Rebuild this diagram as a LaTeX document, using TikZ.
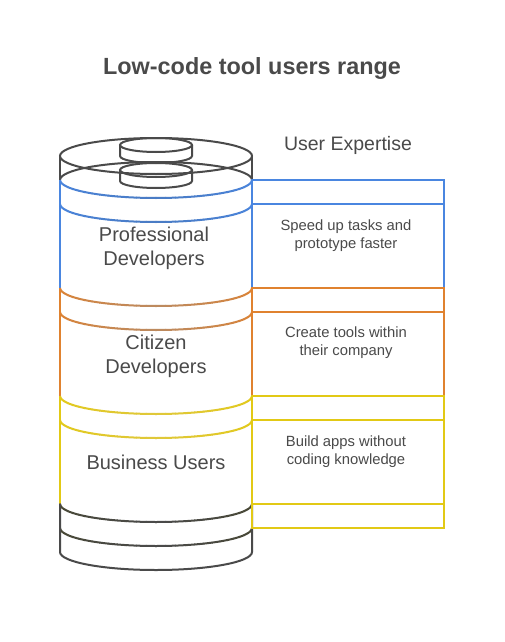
\documentclass[tikz,border=0pt]{standalone}
\usepackage{fontspec}
\setmainfont{Liberation Sans}
\definecolor{inkgrey}{HTML}{4A4A4A}
\definecolor{pblue}{HTML}{4A86E0}
\definecolor{pbluemid}{HTML}{4A7CC4}
\definecolor{porange}{HTML}{E0822F}
\definecolor{porangemid}{HTML}{BC8A60}
\definecolor{pyellow}{HTML}{E2C915}
\definecolor{pyellowmid}{HTML}{E0C83A}
\definecolor{polive}{HTML}{484832}
\tikzset{
  outline/.style={draw=inkgrey,line width=2pt,line cap=round},
  band/.style={line width=2pt,line join=miter},
  bigtext/.style={text=inkgrey,font=\fontsize{20}{24}\selectfont,align=center,inner sep=0pt},
  smalltext/.style={text=inkgrey,font=\fontsize{14.8}{18}\selectfont,align=center,inner sep=0pt},
}
% Front half of a drum ring: side points at height #1, colour shifting from #2 at the ends to #3 at the middle
\newcommand{\ringarc}[3]{%
  \foreach \a in {0,6,...,84}{%
    \pgfmathsetmacro{\mixv}{100*(\a+3)/90}%
    \pgfmathsetmacro{\b}{\a+6.4}%
    \draw[band,draw={#3!\mixv!#2}] (156-96*cos \a,#1+18*sin \a) arc[start angle=180+\a,end angle=180+\b,x radius=96,y radius=-18];%
    \draw[band,draw={#3!\mixv!#2}] (156+96*cos \a,#1+18*sin \a) arc[start angle=-\a,end angle=-\b,x radius=96,y radius=-18];%
  }%
}
\begin{document}
\begin{tikzpicture}[x=1pt,y=-1pt]
\useasboundingbox (0,0) rectangle (504,642);
\fill[white] (0,0) rectangle (504,642);

\node[text=inkgrey,font=\fontsize{23.4}{28}\selectfont\bfseries,inner sep=0pt] (title) at (252,69) {Low-code tool users range};
\node[text=inkgrey,font=\fontsize{19.5}{24}\selectfont,inner sep=0pt] (expertise) at (348,145) {User Expertise};

% Drum sides, coloured by tier
\draw[outline] (60,156) -- (60,180);
\draw[outline] (252,156) -- (252,180);
\draw[band,pblue] (60,180) -- (60,288) (252,180) -- (252,288);
\draw[band,porange] (60,288) -- (60,396) (252,288) -- (252,396);
\draw[band,pyellow] (60,396) -- (60,504) (252,396) -- (252,504);

% Drum top and the two discs resting on it
\draw[outline] (156,156) ellipse[x radius=96,y radius=18];
\draw[outline] (60,180) arc[start angle=180,end angle=0,x radius=96,y radius=-18];
\draw[outline] (156,145) ellipse[x radius=36,y radius=7];
\draw[outline] (120,145) -- (120,156) arc[start angle=180,end angle=360,x radius=36,y radius=-7] -- (192,145);
\draw[outline] (156,170) ellipse[x radius=36,y radius=7];
\draw[outline] (120,170) -- (120,181) arc[start angle=180,end angle=360,x radius=36,y radius=-7] -- (192,170);

% Rings of each tier
\ringarc{180}{pblue}{pbluemid}
\ringarc{204}{pblue}{pbluemid}
\ringarc{288}{porange}{porangemid}
\ringarc{312}{porange}{porangemid}
\ringarc{396}{pyellow}{pyellowmid}
\ringarc{420}{pyellow}{pyellowmid}
\ringarc{504}{polive}{inkgrey}
\ringarc{528}{polive}{inkgrey}
% Drum foot
\draw[outline] (60,504) -- (60,552) arc[start angle=180,end angle=360,x radius=96,y radius=-18] -- (252,504);

% Description panels
\draw[band,pblue] (252,180) rectangle (444,288) (252,204) -- (444,204);
\draw[band,porange] (252,288) rectangle (444,396) (252,312) -- (444,312);
\draw[band,pyellow] (252,396) rectangle (444,528) (252,420) -- (444,420) (252,504) -- (444,504);

% Tier names
\node[bigtext] (pro) at (154,248) {Professional\\Developers};
\node[bigtext] (citizen) at (156,356) {Citizen\\Developers};
\node[bigtext] (business) at (156,462) {Business Users};

% Tier descriptions
\node[smalltext] (speed) at (346,236) {Speed up tasks and\\prototype faster};
\node[smalltext] (create) at (346,343) {Create tools within\\their company};
\node[smalltext] (build) at (346,452) {Build apps without\\coding knowledge};
\end{tikzpicture}
\end{document}
